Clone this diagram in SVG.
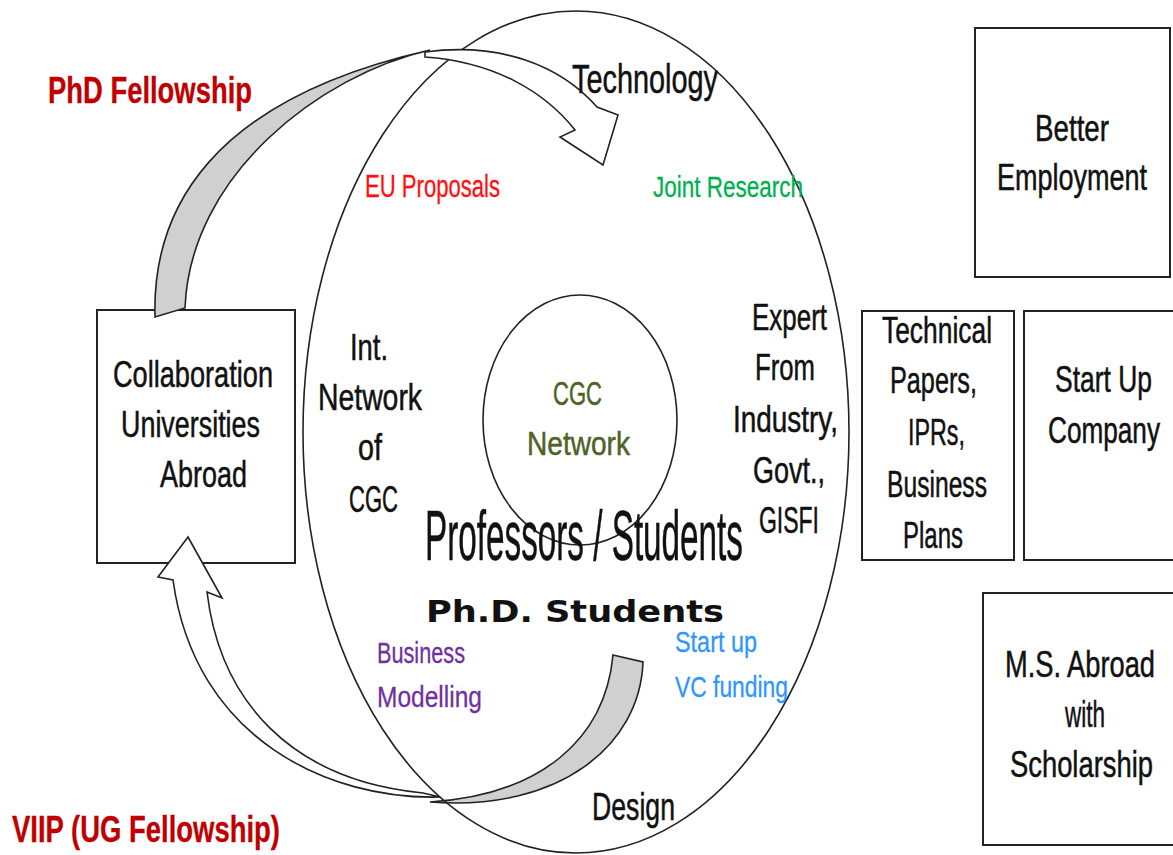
<svg xmlns="http://www.w3.org/2000/svg" width="1173" height="855" viewBox="0 0 1173 855">
<style>
.t{font-family:"Liberation Sans",Arial,sans-serif;fill:#111;stroke:#111;stroke-width:0.5}
.b{font-weight:bold;stroke-width:0.3}
.box{fill:#fff;stroke:#222;stroke-width:2}
.ln{fill:none;stroke:#222;stroke-width:1.6}
.wa{fill:#fff;stroke:#222;stroke-width:1.6;stroke-linejoin:miter}
.ga{fill:#d0d0d0;stroke:#222;stroke-width:1.6}
.red{fill:#C00000;stroke:#C00000}
.ol{fill:#4F6228;stroke:#4F6228}
.eu{fill:#FF1010;stroke:#FF1010;stroke-width:0.3}
.gr{fill:#00B050;stroke:#00B050;stroke-width:0.3}
.pu{fill:#7030A0;stroke:#7030A0;stroke-width:0.3}
.bl{fill:#2F95FF;stroke:#2F95FF;stroke-width:0.3}
</style>
<rect width="1173" height="855" fill="#fff"/>

<g id="collab">
<rect class="box" x="97" y="310" width="198" height="253"/>
<text class="t" font-size="36" x="113" y="387" textLength="160" lengthAdjust="spacingAndGlyphs">Collaboration</text>
<text class="t" font-size="36" x="121" y="437" textLength="139" lengthAdjust="spacingAndGlyphs">Universities</text>
<text class="t" font-size="36" x="160" y="487" textLength="87" lengthAdjust="spacingAndGlyphs">Abroad</text>
</g>

<g id="connectors">
<path class="wa" d="M188,537 L222,598 L207,592 C220,700 290,780 423,793 L440,797 C330,800 195,740 173,580 L158,577 Z"/>
<path class="ga" d="M613,655 L643,662 C640,745 560,812 430,802 C540,795 605,740 613,655 Z"/>
</g>

<g id="outer">
<ellipse class="ln" cx="576" cy="432" rx="273" ry="421"/>
</g>
<g id="cgc">
<ellipse class="ln" cx="580" cy="420" rx="97" ry="125"/>
<text class="t ol" font-size="34" x="553" y="405" textLength="49" lengthAdjust="spacingAndGlyphs">CGC</text>
<text class="t ol" font-size="34" x="527" y="455" textLength="103" lengthAdjust="spacingAndGlyphs">Network</text>
</g>

<g id="phd-arrow">
<path class="ga" d="M155,317 C152,210 210,100 430,50 C320,75 190,175 185,308 Z"/>
<path class="wa" d="M425,52 C500,42 560,65 597,107 L618,115 L603,165 L560,137 L575,130 C545,92 495,62 425,57 Z"/>
</g>

<g id="labels">
<text class="t b red" font-size="37" x="48" y="103" textLength="204" lengthAdjust="spacingAndGlyphs">PhD Fellowship</text>
<text class="t b red" font-size="37" x="12" y="842" textLength="268" lengthAdjust="spacingAndGlyphs">VIIP (UG Fellowship)</text>
<text class="t" font-size="40" x="572" y="93" textLength="146" lengthAdjust="spacingAndGlyphs">Technology</text>
<text class="t" font-size="38" x="592" y="820" textLength="83" lengthAdjust="spacingAndGlyphs">Design</text>
<text class="t eu" font-size="31" x="365" y="197" textLength="135" lengthAdjust="spacingAndGlyphs">EU Proposals</text>
<text class="t gr" font-size="29" x="653" y="197" textLength="150" lengthAdjust="spacingAndGlyphs">Joint Research</text>
<text class="t pu" font-size="30" x="377" y="663" textLength="88" lengthAdjust="spacingAndGlyphs">Business</text>
<text class="t pu" font-size="30" x="377" y="707" textLength="105" lengthAdjust="spacingAndGlyphs">Modelling</text>
<text class="t bl" font-size="30" x="675" y="652" textLength="82" lengthAdjust="spacingAndGlyphs">Start up</text>
<text class="t bl" font-size="30" x="675" y="697" textLength="113" lengthAdjust="spacingAndGlyphs">VC funding</text>
</g>

<g id="intnet">
<text class="t" font-size="36" x="350" y="360" textLength="38" lengthAdjust="spacingAndGlyphs">Int.</text>
<text class="t" font-size="36" x="318" y="410" textLength="104" lengthAdjust="spacingAndGlyphs">Network</text>
<text class="t" font-size="36" x="358" y="460" textLength="24" lengthAdjust="spacingAndGlyphs">of</text>
<text class="t" font-size="36" x="349" y="512" textLength="49" lengthAdjust="spacingAndGlyphs">CGC</text>
</g>

<g id="expert">
<text class="t" font-size="36" x="752" y="330" textLength="75" lengthAdjust="spacingAndGlyphs">Expert</text>
<text class="t" font-size="36" x="755" y="380" textLength="60" lengthAdjust="spacingAndGlyphs">From</text>
<text class="t" font-size="36" x="733" y="432" textLength="105" lengthAdjust="spacingAndGlyphs">Industry,</text>
<text class="t" font-size="36" x="753" y="483" textLength="72" lengthAdjust="spacingAndGlyphs">Govt.,</text>
<text class="t" font-size="36" x="759" y="533" textLength="60" lengthAdjust="spacingAndGlyphs">GISFI</text>
</g>

<g id="center">
<text class="t" font-size="70" x="425" y="560" textLength="318" lengthAdjust="spacingAndGlyphs">Professors / Students</text>
<text font-family="'DejaVu Sans',Verdana,sans-serif" font-weight="bold" font-size="30" fill="#111" x="426" y="622" textLength="298" lengthAdjust="spacingAndGlyphs">Ph.D. Students</text>
</g>

<g id="better">
<rect class="box" x="975" y="28" width="195" height="249"/>
<text class="t" font-size="36" x="1035" y="141" textLength="74" lengthAdjust="spacingAndGlyphs">Better</text>
<text class="t" font-size="36" x="997" y="190" textLength="150" lengthAdjust="spacingAndGlyphs">Employment</text>
</g>

<g id="technical">
<rect class="box" x="862" y="311" width="152" height="249"/>
<text class="t" font-size="36" x="882" y="343" textLength="110" lengthAdjust="spacingAndGlyphs">Technical</text>
<text class="t" font-size="36" x="890" y="393" textLength="87" lengthAdjust="spacingAndGlyphs">Papers,</text>
<text class="t" font-size="36" x="908" y="445" textLength="57" lengthAdjust="spacingAndGlyphs">IPRs,</text>
<text class="t" font-size="36" x="887" y="497" textLength="100" lengthAdjust="spacingAndGlyphs">Business</text>
<text class="t" font-size="36" x="903" y="548" textLength="60" lengthAdjust="spacingAndGlyphs">Plans</text>
</g>

<g id="startup">
<rect class="box" x="1024" y="311" width="160" height="249"/>
<text class="t" font-size="36" x="1055" y="392" textLength="97" lengthAdjust="spacingAndGlyphs">Start Up</text>
<text class="t" font-size="36" x="1048" y="443" textLength="112" lengthAdjust="spacingAndGlyphs">Company</text>
</g>

<g id="msabroad">
<rect class="box" x="983" y="593" width="200" height="252"/>
<text class="t" font-size="37" x="1005" y="677" textLength="150" lengthAdjust="spacingAndGlyphs">M.S. Abroad</text>
<text class="t" font-size="37" x="1065" y="727" textLength="40" lengthAdjust="spacingAndGlyphs">with</text>
<text class="t" font-size="37" x="1010" y="777" textLength="143" lengthAdjust="spacingAndGlyphs">Scholarship</text>
</g>
</svg>
